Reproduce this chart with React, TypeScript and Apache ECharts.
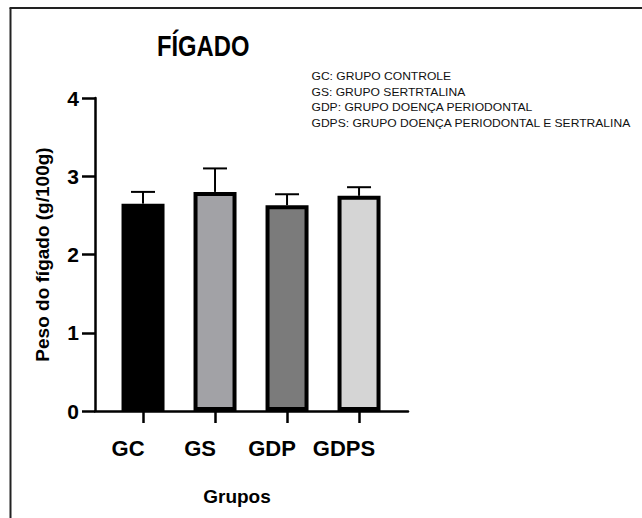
import React, { useEffect, useRef } from "react";
import * as echarts from "echarts";

const categories = ["GC", "GS", "GDP", "GDPS"];
const positions = [0, 1, 2, 3];
const means = [2.65, 2.8, 2.63, 2.75];
const upperErrors = [2.8, 3.1, 2.77, 2.86];
const barColors = ["#000000", "#a2a2a6", "#7b7b7b", "#d5d5d5"];
const yTicks = [0, 1, 2, 3, 4];
const titleText = "FÍGADO";
const yAxisTitle = "Peso do fígado (g/100g)";
const xAxisTitle = "Grupos";
const legendLines = [
  "GC: GRUPO CONTROLE",
  "GS: GRUPO SERTRTALINA",
  "GDP: GRUPO DOENÇA PERIODONTAL",
  "GDPS: GRUPO DOENÇA PERIODONTAL E SERTRALINA",
];

const FONT = "'Liberation Sans', Arial, Helvetica, sans-serif";

export default function App() {
  const ref = useRef<HTMLDivElement>(null);
  useEffect(() => {
    document.body.style.margin = "0";
    if (!ref.current) return;
    const chart = echarts.init(ref.current, null, { renderer: "svg" });
    const barData = positions.map((p, i) => ({
      value: [p, means[i]],
      itemStyle: { color: barColors[i] },
    }));
    const errData = positions.map((p, i) => [p, means[i], upperErrors[i]]);
    const legendGraphics = legendLines.map((t, i) => ({
      type: "text",
      x: 311.5,
      y: 76.5 + i * 15.5,
      scaleX: 1.1,
      style: {
        text: t,
        font: `11px ${FONT}`,
        fill: "#111",
        textAlign: "left",
        textVerticalAlign: "middle",
      },
    }));
    chart.setOption({
      animation: false,
      backgroundColor: "#ffffff",
      grid: { left: 95, top: 98, right: 234, bottom: 107, containLabel: false },
      xAxis: {
        type: "value",
        min: -0.667,
        max: 3.68,
        name: xAxisTitle,
        nameLocation: "middle",
        nameGap: 76,
        nameTextStyle: {
          fontFamily: FONT,
          fontWeight: "bold",
          fontSize: 19,
          color: "#000",
          padding: [0, 29, 0, 0],
        },
        splitLine: { show: false },
        axisLine: { show: true, onZero: false, lineStyle: { color: "#000", width: 2.5 } },
        axisTick: {
          show: true,
          customValues: positions,
          length: 12,
          lineStyle: { color: "#000", width: 2.5 },
        },
        axisLabel: {
          show: true,
          customValues: positions,
          margin: 26,
          padding: [0, 30, 0, 0],
          formatter: (v: number) => categories[Math.round(v)] ?? "",
          fontFamily: FONT,
          fontWeight: "bold",
          fontSize: 22,
          color: "#000",
        },
      },
      yAxis: {
        type: "value",
        min: 0,
        max: 4,
        interval: 1,
        name: yAxisTitle,
        nameLocation: "middle",
        nameGap: 43,
        nameRotate: 90,
        nameTextStyle: {
          fontFamily: FONT,
          fontWeight: "bold",
          fontSize: 19,
          color: "#000",
        },
        splitLine: { show: false },
        axisLine: { show: true, onZero: false, lineStyle: { color: "#000", width: 2.5 } },
        axisTick: { show: true, length: 13, lineStyle: { color: "#000", width: 2.5 } },
        axisLabel: {
          margin: 16,
          fontFamily: FONT,
          fontWeight: "bold",
          fontSize: 21,
          color: "#000",
          formatter: (v: number) => (yTicks.includes(v) ? String(v) : ""),
        },
      },
      graphic: [
        {
          type: "line",
          shape: { x1: 10.5, y1: 8, x2: 10.5, y2: 518 },
          style: { stroke: "#222", lineWidth: 2 },
        },
        {
          type: "line",
          shape: { x1: 9.5, y1: 8, x2: 642, y2: 8 },
          style: { stroke: "#222", lineWidth: 2 },
        },
        {
          type: "text",
          x: 157,
          y: 46.5,
          scaleX: 0.82,
          style: {
            text: titleText,
            font: `bold 29px ${FONT}`,
            fill: "#000",
            textAlign: "left",
            textVerticalAlign: "middle",
          },
        },
        ...legendGraphics,
      ],
      series: [
        {
          type: "custom",
          z: 1,
          data: errData,
          encode: { x: 0, y: [1, 2] },
          renderItem: (params: any, api: any) => {
            const x = api.value(0);
            const m = api.value(1);
            const u = api.value(2);
            const p0 = api.coord([x, m]);
            const p1 = api.coord([x, u]);
            const half = 12;
            return {
              type: "group",
              children: [
                {
                  type: "line",
                  shape: { x1: p0[0], y1: p0[1], x2: p1[0], y2: p1[1] },
                  style: { stroke: "#000", lineWidth: 2 },
                },
                {
                  type: "line",
                  shape: { x1: p1[0] - half, y1: p1[1], x2: p1[0] + half, y2: p1[1] },
                  style: { stroke: "#000", lineWidth: 2 },
                },
              ],
            };
          },
        },
        {
          type: "bar",
          z: 2,
          barWidth: 43,
          data: barData,
          itemStyle: { borderColor: "#000", borderWidth: 4 },
        },
      ],
    });
    return () => chart.dispose();
  }, []);
  return <div ref={ref} style={{ width: 642, height: 518 }} />;
}
